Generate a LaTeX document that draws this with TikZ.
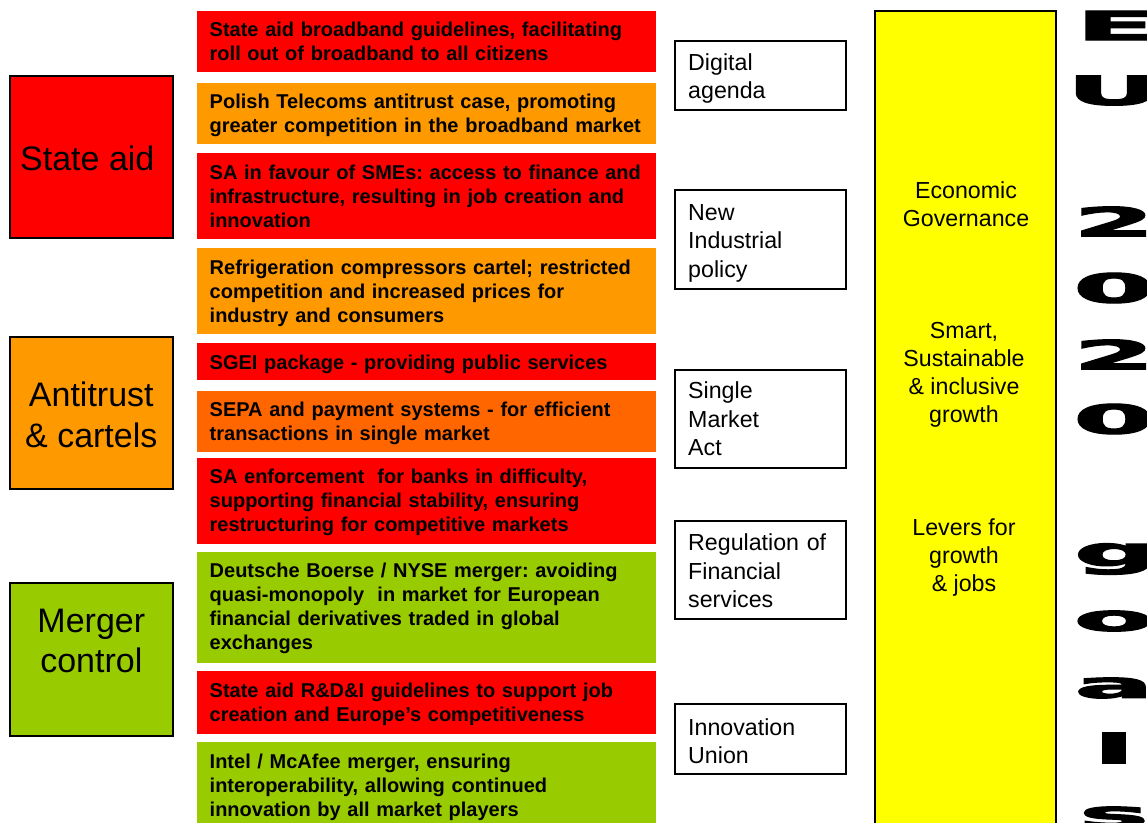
\documentclass[tikz,border=0pt]{standalone}
\usepackage{fontspec}
\setmainfont{Liberation Sans}
\newfontfamily\heavyfont[FakeBold=3]{DejaVu Sans Bold}
\definecolor{cred}{HTML}{FF0000}
\definecolor{corange}{HTML}{FF9900}
\definecolor{cdark}{HTML}{FF6600}
\definecolor{cgreen}{HTML}{99CC00}
\definecolor{cyell}{HTML}{FFFF00}
\tikzset{
 item/.style={anchor=north west,inner sep=0pt,minimum width=459pt},
 itext/.style={anchor=west,inner xsep=12.5pt,inner ysep=0pt,text width=446pt,align=left,
   font=\frenchspacing\fontsize{20}{24}\selectfont\bfseries,text=black},
 big/.style={draw=black,line width=1.6pt,anchor=north west,minimum width=163pt,inner sep=0pt},
 btext/.style={align=center,inner sep=0pt,font=\fontsize{34}{40.5}\selectfont},
 mid/.style={draw=black,line width=1.6pt,fill=white,anchor=north west,minimum width=171pt,inner sep=0pt},
 mtext/.style={anchor=west,inner xsep=14pt,inner ysep=0pt,text width=147pt,align=left,font=\fontsize{23.2}{28.2}\selectfont},
 lever/.style={align=center,inner sep=0pt,font=\fontsize{23.2}{28}\selectfont},
 glyph/.style={inner sep=0pt,font=\heavyfont\fontsize{40}{40}\selectfont,xscale=2.9,transform shape},
}
\begin{document}
\begin{tikzpicture}[x=1pt,y=-1pt]
\useasboundingbox (0,0) rectangle (1147,822);
\clip (0,0) rectangle (1147,822);
\fill[white] (0,0) rectangle (1147,822);
% left categories
\node[big,fill=cred,minimum height=162pt] (sa) at (9,75) {};
\node[btext,yshift=-2pt] (sat) at (sa.center) {State aid\hspace{8pt}};
\node[big,fill=corange,minimum height=152pt] (ac) at (9,336) {};
\node[btext,yshift=-2pt] (act) at (ac.center) {Antitrust\hspace{8pt}\\\& cartels};
\node[big,fill=cgreen,minimum height=153pt] (mc) at (9,582) {};
\node[btext,yshift=18.5pt] (mct) at (mc.center) {Merger\\control};
% centre items
\node[item,fill=cred,minimum height=61pt] (i1) at (197,11) {};
\node[itext] (t1) at (i1.west) {State aid broadband guidelines, facilitating\\roll out of broadband to all citizens};
\node[item,fill=corange,minimum height=61pt] (i2) at (197,83) {};
\node[itext,yshift=-2pt] (t2) at (i2.west) {Polish Telecoms antitrust case, promoting\\greater competition in the broadband market};
\node[item,fill=cred,minimum height=86pt] (i3) at (197,153) {};
\node[itext] (t3) at (i3.west) {SA in favour of SMEs: access to finance and\\infrastructure, resulting in job creation and\\innovation};
\node[item,fill=corange,minimum height=86pt] (i4) at (197,248) {};
\node[itext,yshift=-2pt] (t4) at (i4.west) {Refrigeration compressors cartel; restricted\\competition and increased prices for\\industry and consumers};
\node[item,fill=cred,minimum height=37pt] (i5) at (197,343) {};
\node[itext,yshift=-3pt] (t5) at (i5.west) {SGEI package - providing public services};
\node[item,fill=cdark,minimum height=61pt] (i6) at (197,391) {};
\node[itext,yshift=-2pt] (t6) at (i6.west) {SEPA and payment systems - for efficient\\transactions in single market};
\node[item,fill=cred,minimum height=86pt] (i7) at (197,458) {};
\node[itext,yshift=-1pt] (t7) at (i7.west) {SA enforcement\ \ for banks in difficulty,\\supporting financial stability, ensuring\\restructuring for competitive markets};
\node[item,fill=cgreen,minimum height=111pt] (i8) at (197,552) {};
\node[itext,yshift=-1pt] (t8) at (i8.west) {Deutsche Boerse / NYSE merger: avoiding\\quasi-monopoly\ \ in market for European\\financial derivatives traded in global\\exchanges};
\node[item,fill=cred,minimum height=63pt] (i9) at (197,671) {};
\node[itext,yshift=-2pt] (t9) at (i9.west) {State aid R\&D\&I guidelines to support job\\creation and Europe's competitiveness};
\node[item,fill=cgreen,minimum height=86pt] (i10) at (197,742) {};
\node[itext,yshift=-2pt] (t10) at (i10.west) {Intel / McAfee merger, ensuring\\interoperability, allowing continued\\innovation by all market players};
% policy boxes
\node[mid,minimum height=69pt] (m1) at (674,40) {};
\node[mtext,yshift=-3pt] (n1) at (m1.west) {Digital\\agenda};
\node[mid,minimum height=99pt] (m2) at (674,189) {};
\node[mtext,yshift=-4pt] (n2) at (m2.west) {New\\Industrial\\policy};
\node[mid,minimum height=98pt] (m3) at (674,369) {};
\node[mtext] (n3) at (m3.west) {Single\\Market\\Act};
\node[mid,minimum height=98pt] (m4) at (674,520) {};
\node[mtext,yshift=-1pt] (n4) at (m4.west) {Regulation of\\Financial\\services};
\node[mid,minimum height=70pt] (m5) at (674,703) {};
\node[mtext,yshift=-2pt] (n5) at (m5.west) {Innovation\\Union};
% yellow column
\node[draw=black,line width=1.6pt,fill=cyell,anchor=north west,minimum width=181pt,minimum height=830pt,inner sep=0pt] (y) at (874,10) {};
\node[lever] (l1) at (966,204) {Economic\hspace{6pt}\\Governance};
\node[lever] (l2) at (964,375) {Smart,\\Sustainable\\\& inclusive\\growth};
\node[lever] (l3) at (964,558) {Levers for\\growth\\\& jobs};
% vertical title
\node[glyph] (g1) at (1116,25.5) {E};
\node[glyph] (g2) at (1114,90.5) {U};
\node[glyph] (g3) at (1114,221.5) {2};
\node[glyph] (g4) at (1114,288) {0};
\node[glyph] (g5) at (1114,354.5) {2};
\node[glyph] (g6) at (1114,419) {0};
\node[glyph] (g7) at (1116,559) {g};
\node[glyph,yscale=0.9] (g8) at (1114,621) {o};
\node[glyph,yscale=0.9] (g9) at (1114,688) {a};
\node[glyph] (g10) at (1114,748) {l};
\node[glyph,yscale=0.9] (g11) at (1114,817) {s};
\end{tikzpicture}
\end{document}
